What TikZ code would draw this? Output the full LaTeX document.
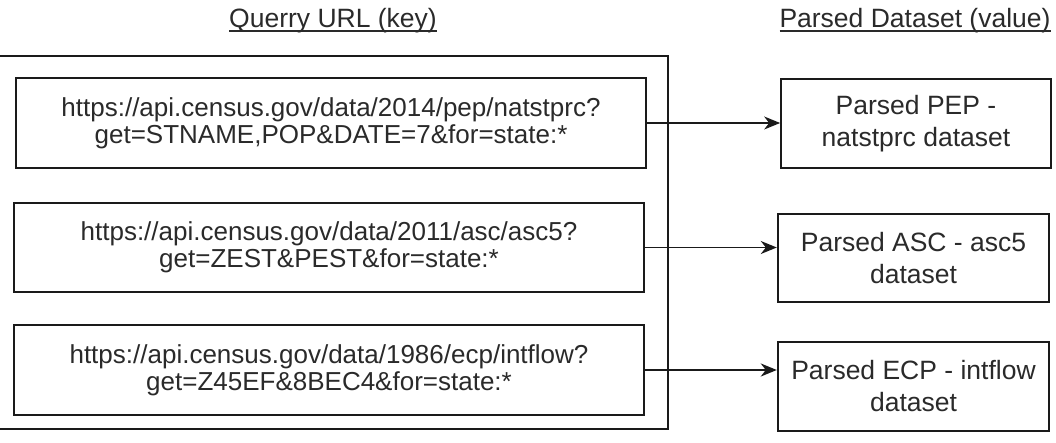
\documentclass[tikz,border=0pt]{standalone}
\usepackage{fontspec}
\setmainfont{Liberation Sans}
\usetikzlibrary{arrows.meta}
\definecolor{txt}{HTML}{2A2A2A}
\definecolor{ln}{HTML}{1A1A1A}
\newcommand\myul[1]{\setbox0\hbox{#1}\rlap{\rule[-4pt]{\wd0}{1.6pt}}\box0}
\begin{document}
\begin{tikzpicture}[x=1pt,y=-1pt,
  container/.style={draw=ln, line width=1.8pt, inner sep=0pt},
  keybox/.style={draw=ln, text=txt, align=center, inner sep=0pt,
    font=\fontsize{26}{27}\selectfont},
  valbox/.style={draw=ln, text=txt, align=center, inner sep=0pt,
    font=\fontsize{26.5}{32}\selectfont},
  title/.style={text=txt, anchor=base, inner sep=0pt,
    font=\fontsize{26.5}{30}\selectfont},
  arr/.style={draw=ln, -{Stealth[length=16pt,width=13pt,inset=5pt]}}]
\useasboundingbox (0,0) rectangle (1056,443);

\node[title] (t1) at (333,28) {\myul{Querry URL (key)}};
\node[title] (t2) at (915,28) {\myul{Parsed Dataset (value)}};

\node[container, minimum width=690pt, minimum height=373pt] (cont) at (323,242.5) {};

\node[keybox, line width=1.7pt, minimum width=630pt, minimum height=90pt] (k1) at (331,123)
  {https://api.census.gov/data/2014/pep/natstprc?\\get=STNAME,POP\&DATE=7\&for=state:*};
\node[keybox, line width=2.4pt, minimum width=630pt, minimum height=89pt] (k2) at (329,247.5)
  {https://api.census.gov/data/2011/asc/asc5?\\get=ZEST\&PEST\&for=state:*};
\node[keybox, line width=2.4pt, minimum width=630pt, minimum height=90pt] (k3) at (329,370)
  {https://api.census.gov/data/1986/ecp/intflow?\\get=Z45EF\&8BEC4\&for=state:*};

\node[valbox, line width=1.7pt, minimum width=270pt, minimum height=89pt] (v1) at (916,123.5)
  {Parsed PEP -\\natstprc dataset};
\node[valbox, line width=2.4pt, minimum width=271pt, minimum height=88pt] (v2) at (913.5,258)
  {Parsed ASC - asc5\\dataset};
\node[valbox, line width=2.4pt, minimum width=271pt, minimum height=89pt] (v3) at (913.5,386.5)
  {Parsed ECP - intflow\\dataset};

\draw[arr, line width=1.5pt] (k1.east) -- (k1.east -| v1.west);
\draw[arr, line width=1.5pt] (k2.east) -- (k2.east -| v2.west);
\draw[arr, line width=2.2pt] (k3.east) -- (k3.east -| v3.west);
\end{tikzpicture}
\end{document}
